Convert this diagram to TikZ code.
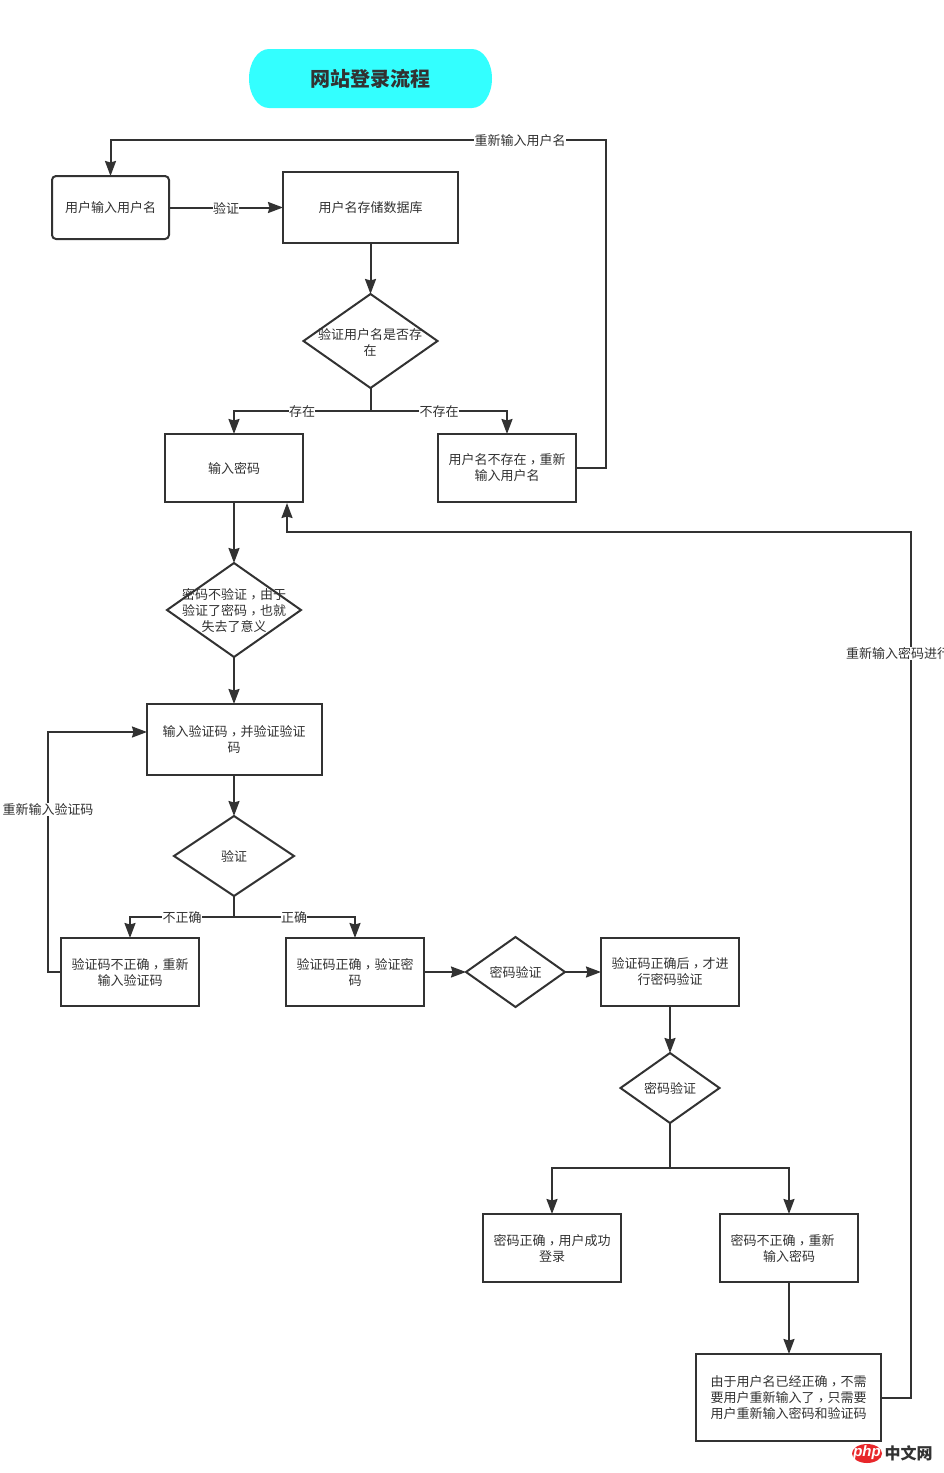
\documentclass[tikz,border=0pt]{standalone}
\usepackage{fontspec}
\setmainfont{Noto Sans CJK SC}
\newfontfamily\logofont{Liberation Sans}
\newfontfamily\tcfont{Noto Sans CJK TC}
\newcommand{\midcomma}{\raisebox{-3pt}{\tcfont ，}}
\usetikzlibrary{arrows.meta}
\usetikzlibrary{shapes.geometric}
\definecolor{inkcol}{HTML}{323232}
\definecolor{titlecol}{HTML}{33FFFF}
\definecolor{logocol}{HTML}{E8272B}
\tikzset{textsty/.style = {text = inkcol, align = center, font = \fontsize{13}{16}\selectfont},
         stepbox/.style = {textsty, draw = inkcol, line width = 2pt, inner sep = 0pt, outer sep = 0pt,
                           minimum width = #1},
         stepbox/.default = 138pt,
         decide/.style 2 args = {draw = inkcol, line width = 2pt, diamond, inner sep = 0pt, outer sep = 0pt,
                                 minimum width = #1, minimum height = #2},
         edgelbl/.style = {textsty, fill = white, inner sep = 0.3pt},
         flow/.style = {draw = inkcol, line width = 2pt,
                        -{Stealth[length = 15pt, width = 11pt, inset = 1.5pt]}},
         plainflow/.style = {draw = inkcol, line width = 2pt}}

\begin{document}
\begin{tikzpicture}[x = 1pt, y = -1pt]
      \useasboundingbox (0, 0) rectangle (943, 1473);
      \fill [titlecol] (269, 49) -- (472, 49) arc [start angle = 90, end angle = -90, x radius = 20pt, y radius = 29.5pt]
            -- (269, 108) arc [start angle = -90, end angle = -270, x radius = 20pt, y radius = 29.5pt] -- cycle;
      \node [inner sep = 0pt, text = inkcol, font = \fontsize{20}{24}\selectfont\bfseries] (title) at (370, 79) {网站登录流程};
      % first row, user name
      \node [stepbox = 117pt, minimum height = 63pt, rounded corners = 4pt] (username) at (110.5, 207.5) {用户输入用户名};
      \node [stepbox = 175pt, minimum height = 71pt] (namestore) at (370.5, 207.5) {用户名存储数据库};
      \node [decide = {134pt}{94pt}] (namecheck) at (370.5, 341) {};
      \node [textsty] (namechecktext) at (370, 342) {验证用户名是否存\\在};
      \node [stepbox, minimum height = 68pt] (password) at (234, 468) {输入密码};
      \node [stepbox, minimum height = 68pt] (noname) at (507, 468) {用户名不存在\midcomma 重新\\输入用户名};
      % skipping the password check
      \node [decide = {134pt}{94pt}] (skipcheck) at (234, 610) {};
      \node [textsty] (skipchecktext) at (234, 610.5) {密码不验证\midcomma 由于\\验证了密码\midcomma 也就\\失去了意义};
      \node [stepbox = 175pt, minimum height = 71pt] (codeinput) at (234, 739.5) {输入验证码\midcomma 并验证验证\\码};
      \node [decide = {120pt}{80pt}] (codecheck) at (234, 856) {};
      \node [textsty] (codechecktext) at (234, 856.5) {验证};
      \node [stepbox, minimum height = 68pt] (codewrong) at (130, 972) {验证码不正确\midcomma 重新\\输入验证码};
      \node [stepbox, minimum height = 68pt] (coderight) at (355, 972) {验证码正确\midcomma 验证密\\码};
      \node [decide = {99pt}{70pt}] (passcheck) at (515.5, 972) {};
      \node [textsty] (passchecktext) at (515.5, 972.5) {密码验证};
      \node [stepbox, minimum height = 68pt] (codedone) at (670, 972) {验证码正确后\midcomma 才进\\行密码验证};
      \node [decide = {99pt}{70pt}] (passfinal) at (670, 1088) {};
      \node [textsty] (passfinaltext) at (670, 1088.5) {密码验证};
      \node [stepbox, minimum height = 68pt] (passright) at (552, 1248) {密码正确\midcomma 用户成功\\登录};
      \node [stepbox, minimum height = 68pt] (passwrong) at (789, 1248) {密码不正确\midcomma 重新　\\输入密码};
      \node [stepbox = 185pt, minimum height = 87pt] (retry) at (788.5, 1397.5) {由于用户名已经正确\midcomma 不需\\要用户重新输入了\midcomma 只需要\\用户重新输入密码和验证码};
      % bends and forks
      \coordinate (namefork) at (370.5, 411);
      \coordinate (codefork) at (234, 917);
      \coordinate (passfork) at (670, 1168);
      \coordinate (nameright) at (606, 140);
      \coordinate (nameleft) at (110.5, 140);
      \coordinate (codeback) at (48, 732);
      \coordinate (codeentry) at (147, 732);
      \coordinate (retryback) at (911, 532);
      \coordinate (passbend) at (287, 532);
      \coordinate (passentry) at (287, 503);
      \draw [flow] (username) -- (namestore);
      \draw [flow] (namestore) -- (namecheck);
      \draw [plainflow] (namecheck.south) -- (namefork);
      \draw [flow] (namefork) -| (password.north);
      \draw [flow] (namefork) -| (noname.north);
      \draw [flow] (noname.east) -| (nameright) -- (nameleft) -- (username.north);
      \draw [flow] (password) -- (skipcheck);
      \draw [flow] (skipcheck) -- (codeinput);
      \draw [flow] (codeinput) -- (codecheck);
      \draw [plainflow] (codecheck.south) -- (codefork);
      \draw [flow] (codefork) -| (codewrong.north);
      \draw [flow] (codefork) -| (coderight.north);
      \draw [flow] (codewrong.west) -| (codeback) -- (codeentry);
      \draw [flow] (coderight) -- (passcheck);
      \draw [flow] (passcheck) -- (codedone);
      \draw [flow] (codedone) -- (passfinal);
      \draw [plainflow] (passfinal.south) -- (passfork);
      \draw [flow] (passfork) -| (passright.north);
      \draw [flow] (passfork) -| (passwrong.north);
      \draw [flow] (passwrong) -- (passwrong |- retry.north);
      \draw [flow] (retry.east) -| (retryback) -- (passbend) -- (passentry);
      % edge labels
      \node [edgelbl] (checklbl) at (226, 208.5) {验证};
      \node [edgelbl] (againlbl) at (520, 140.5) {重新输入用户名};
      \node [edgelbl] (existlbl) at (302, 411.5) {存在};
      \node [edgelbl] (nonelbl) at (439, 411.5) {不存在};
      \node [edgelbl] (wronglbl) at (182, 917.5) {不正确};
      \node [edgelbl] (rightlbl) at (294, 917.5) {正确};
      \node [edgelbl] (codelbl) at (48, 809.5) {重新输入验证码};
      \node [edgelbl, anchor = west] (passlbl) at (845.5, 653.5) {重新输入密码进行};
      % logo in the corner
      \node [ellipse, fill = logocol, minimum width = 30pt, minimum height = 19pt, inner sep = 0pt] (logo) at (867, 1453.5) {};
      \node [text = white, inner sep = 0pt, font = \fontsize{15}{15}\logofont\bfseries\itshape] (logophp) at (867, 1452.5) {php};
      \node [text = inkcol, inner sep = 0pt, font = \fontsize{16}{16}\selectfont\bfseries] (logoname) at (908.5, 1453.5) {中文网};
    \end{tikzpicture}
\end{document}
